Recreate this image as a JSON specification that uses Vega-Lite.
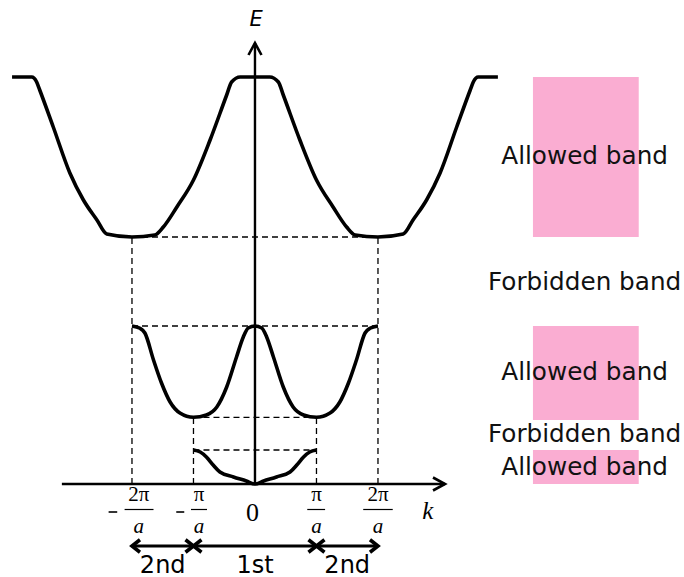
{
  "$schema": "https://vega.github.io/schema/vega-lite/v6.json",
  "width": 684,
  "height": 577,
  "autosize": {"type": "none"},
  "padding": 0,
  "background": "white",
  "config": {"view": {"stroke": null}},
  "layer": [
    {
      "description": "allowed bands as pink blocks",
      "data": {"values": [
        {"k0": 4.52, "k1": 6.24, "e0": 2.47, "e1": 4.07},
        {"k0": 4.52, "k1": 6.24, "e0": 0.64, "e1": 1.58},
        {"k0": 4.52, "k1": 6.24, "e0": 0, "e1": 0.34}
      ]},
      "mark": {"type": "rect", "color": "#FAADD2"},
      "encoding": {
        "x": {"field": "k0", "type": "quantitative", "scale": {"domain": [-4.146, 6.976], "nice": false, "zero": false}, "axis": null},
        "x2": {"field": "k1"},
        "y": {"field": "e0", "type": "quantitative", "scale": {"domain": [-0.93, 4.84], "nice": false, "zero": false}, "axis": null},
        "y2": {"field": "e1"}
      }
    },
    {
      "description": "dashed guide lines at band edges and zone boundaries",
      "data": {"values": [
        {"k0": -2, "k1": 2, "e0": 2.47, "e1": 2.47},
        {"k0": -2, "k1": -2, "e0": 0, "e1": 2.47},
        {"k0": 2, "k1": 2, "e0": 0, "e1": 2.47},
        {"k0": -2, "k1": 2, "e0": 1.58, "e1": 1.58},
        {"k0": -1, "k1": 1, "e0": 0.667, "e1": 0.667},
        {"k0": -1, "k1": -1, "e0": 0, "e1": 0.667},
        {"k0": 1, "k1": 1, "e0": 0, "e1": 0.667},
        {"k0": -1, "k1": 1, "e0": 0.34, "e1": 0.34}
      ]},
      "mark": {"type": "rule", "color": "black", "strokeWidth": 1.3, "strokeDash": [6, 4]},
      "encoding": {
        "x": {"field": "k0", "type": "quantitative", "scale": {"domain": [-4.146, 6.976], "nice": false, "zero": false}, "axis": null},
        "x2": {"field": "k1"},
        "y": {"field": "e0", "type": "quantitative", "scale": {"domain": [-0.93, 4.84], "nice": false, "zero": false}, "axis": null},
        "y2": {"field": "e1"}
      }
    },
    {
      "description": "k and E axes",
      "data": {"values": [
        {"k0": -3.14, "k1": 3.09, "e0": 0, "e1": 0},
        {"k0": 0, "k1": 0, "e0": 0, "e1": 4.41}
      ]},
      "mark": {"type": "rule", "color": "black", "strokeWidth": 2.4},
      "encoding": {
        "x": {"field": "k0", "type": "quantitative", "scale": {"domain": [-4.146, 6.976], "nice": false, "zero": false}, "axis": null},
        "x2": {"field": "k1"},
        "y": {"field": "e0", "type": "quantitative", "scale": {"domain": [-0.93, 4.84], "nice": false, "zero": false}, "axis": null},
        "y2": {"field": "e1"}
      }
    },
    {
      "description": "dispersion curves E(k) of the three bands",
      "data": {"values": [
        {"band": 1, "k": -1.0, "e": 0.34}, {"band": 1, "k": -0.89, "e": 0.32}, {"band": 1, "k": -0.79, "e": 0.27},
        {"band": 1, "k": -0.68, "e": 0.19}, {"band": 1, "k": -0.57, "e": 0.12}, {"band": 1, "k": -0.35, "e": 0.07},
        {"band": 1, "k": -0.14, "e": 0.03}, {"band": 1, "k": 0, "e": 0.0},
        {"band": 1, "k": 0.14, "e": 0.03}, {"band": 1, "k": 0.35, "e": 0.07}, {"band": 1, "k": 0.57, "e": 0.12},
        {"band": 1, "k": 0.68, "e": 0.19}, {"band": 1, "k": 0.79, "e": 0.27}, {"band": 1, "k": 0.89, "e": 0.32},
        {"band": 1, "k": 1.0, "e": 0.34},

        {"band": 2, "k": -2.0, "e": 1.58}, {"band": 2, "k": -1.87, "e": 1.557}, {"band": 2, "k": -1.79, "e": 1.51},
        {"band": 2, "k": -1.65, "e": 1.24}, {"band": 2, "k": -1.52, "e": 1.01}, {"band": 2, "k": -1.38, "e": 0.82},
        {"band": 2, "k": -1.22, "e": 0.71}, {"band": 2, "k": -1.0, "e": 0.667}, {"band": 2, "k": -0.79, "e": 0.69},
        {"band": 2, "k": -0.62, "e": 0.77}, {"band": 2, "k": -0.46, "e": 0.97}, {"band": 2, "k": -0.30, "e": 1.27},
        {"band": 2, "k": -0.19, "e": 1.47}, {"band": 2, "k": -0.11, "e": 1.56}, {"band": 2, "k": 0, "e": 1.58},
        {"band": 2, "k": 0.11, "e": 1.56}, {"band": 2, "k": 0.19, "e": 1.47}, {"band": 2, "k": 0.30, "e": 1.27},
        {"band": 2, "k": 0.46, "e": 0.97}, {"band": 2, "k": 0.62, "e": 0.77}, {"band": 2, "k": 0.79, "e": 0.69},
        {"band": 2, "k": 1.0, "e": 0.667}, {"band": 2, "k": 1.22, "e": 0.71}, {"band": 2, "k": 1.38, "e": 0.82},
        {"band": 2, "k": 1.52, "e": 1.01}, {"band": 2, "k": 1.65, "e": 1.24}, {"band": 2, "k": 1.79, "e": 1.51},
        {"band": 2, "k": 1.87, "e": 1.557}, {"band": 2, "k": 2.0, "e": 1.58},

        {"band": 3, "k": -3.95, "e": 4.07}, {"band": 3, "k": -3.63, "e": 4.07}, {"band": 3, "k": -3.55, "e": 4.02},
        {"band": 3, "k": -3.50, "e": 3.94}, {"band": 3, "k": -3.28, "e": 3.57}, {"band": 3, "k": -3.01, "e": 3.11},
        {"band": 3, "k": -2.79, "e": 2.84}, {"band": 3, "k": -2.57, "e": 2.64}, {"band": 3, "k": -2.41, "e": 2.50},
        {"band": 3, "k": -2.0, "e": 2.47}, {"band": 3, "k": -1.63, "e": 2.49}, {"band": 3, "k": -1.49, "e": 2.57},
        {"band": 3, "k": -1.27, "e": 2.77}, {"band": 3, "k": -1.0, "e": 3.04}, {"band": 3, "k": -0.73, "e": 3.44},
        {"band": 3, "k": -0.46, "e": 3.89}, {"band": 3, "k": -0.38, "e": 4.02}, {"band": 3, "k": -0.24, "e": 4.07},
        {"band": 3, "k": 0, "e": 4.07},
        {"band": 3, "k": 0.24, "e": 4.07}, {"band": 3, "k": 0.38, "e": 4.02}, {"band": 3, "k": 0.46, "e": 3.89},
        {"band": 3, "k": 0.73, "e": 3.44}, {"band": 3, "k": 1.0, "e": 3.04}, {"band": 3, "k": 1.27, "e": 2.77},
        {"band": 3, "k": 1.49, "e": 2.57}, {"band": 3, "k": 1.63, "e": 2.49}, {"band": 3, "k": 2.0, "e": 2.47},
        {"band": 3, "k": 2.41, "e": 2.50}, {"band": 3, "k": 2.57, "e": 2.64}, {"band": 3, "k": 2.79, "e": 2.84},
        {"band": 3, "k": 3.01, "e": 3.11}, {"band": 3, "k": 3.28, "e": 3.57}, {"band": 3, "k": 3.50, "e": 3.94},
        {"band": 3, "k": 3.55, "e": 4.02}, {"band": 3, "k": 3.63, "e": 4.07}, {"band": 3, "k": 3.95, "e": 4.07}
      ]},
      "mark": {"type": "line", "color": "black", "strokeWidth": 3.6, "interpolate": "monotone", "strokeJoin": "round", "strokeCap": "butt"},
      "encoding": {
        "x": {"field": "k", "type": "quantitative", "scale": {"domain": [-4.146, 6.976], "nice": false, "zero": false}, "axis": null},
        "y": {"field": "e", "type": "quantitative", "scale": {"domain": [-0.93, 4.84], "nice": false, "zero": false}, "axis": null},
        "detail": {"field": "band", "type": "nominal"}
      }
    },
    {
      "description": "Brillouin zone arrow shafts",
      "data": {"values": [
        {"k0": -2, "k1": -1, "e": -0.62},
        {"k0": -1, "k1": 1, "e": -0.62},
        {"k0": 1, "k1": 2, "e": -0.62}
      ]},
      "mark": {"type": "rule", "color": "black", "strokeWidth": 3.2},
      "encoding": {
        "x": {"field": "k0", "type": "quantitative", "scale": {"domain": [-4.146, 6.976], "nice": false, "zero": false}, "axis": null},
        "x2": {"field": "k1"},
        "y": {"field": "e", "type": "quantitative", "scale": {"domain": [-0.93, 4.84], "nice": false, "zero": false}, "axis": null}
      }
    },
    {
      "description": "arrowheads on the axes",
      "data": {"values": [
        {"k": 0, "e": 4.41, "dir": "up"},
        {"k": 3.09, "e": 0, "dir": "right"}
      ]},
      "mark": {"type": "point", "filled": false, "color": "black", "strokeWidth": 2.6, "size": 100, "opacity": 1},
      "encoding": {
        "x": {"field": "k", "type": "quantitative", "scale": {"domain": [-4.146, 6.976], "nice": false, "zero": false}, "axis": null},
        "y": {"field": "e", "type": "quantitative", "scale": {"domain": [-0.93, 4.84], "nice": false, "zero": false}, "axis": null},
        "shape": {"field": "dir", "type": "nominal", "legend": null,
          "scale": {"domain": ["up", "right", "zleft", "zright"],
                    "range": ["M-1.3,2.4L0,0L1.3,2.4", "M-2.4,-1.3L0,0L-2.4,1.3", "M1.6,-1.25L0,0L1.6,1.25", "M-1.6,-1.25L0,0L-1.6,1.25"]}}
      }
    },
    {
      "description": "arrowheads on the zone arrows",
      "data": {"values": [
        {"k": -2, "e": -0.62, "dir": "zleft"},
        {"k": -1, "e": -0.62, "dir": "zright"},
        {"k": -1, "e": -0.62, "dir": "zleft"},
        {"k": 1, "e": -0.62, "dir": "zright"},
        {"k": 1, "e": -0.62, "dir": "zleft"},
        {"k": 2, "e": -0.62, "dir": "zright"}
      ]},
      "mark": {"type": "point", "filled": false, "color": "black", "strokeWidth": 3.6, "size": 100, "opacity": 1},
      "encoding": {
        "x": {"field": "k", "type": "quantitative", "scale": {"domain": [-4.146, 6.976], "nice": false, "zero": false}, "axis": null},
        "y": {"field": "e", "type": "quantitative", "scale": {"domain": [-0.93, 4.84], "nice": false, "zero": false}, "axis": null},
        "shape": {"field": "dir", "type": "nominal", "legend": null,
          "scale": {"domain": ["up", "right", "zleft", "zright"],
                    "range": ["M-1.3,2.4L0,0L1.3,2.4", "M-2.4,-1.3L0,0L-2.4,1.3", "M1.6,-1.25L0,0L1.6,1.25", "M-1.6,-1.25L0,0L-1.6,1.25"]}}
      }
    },
    {
      "description": "band names",
      "data": {"values": [
        {"k": 5.36, "e": 3.27, "label": "Allowed band"},
        {"k": 5.36, "e": 2.01, "label": "Forbidden band"},
        {"k": 5.36, "e": 1.11, "label": "Allowed band"},
        {"k": 5.36, "e": 0.49, "label": "Forbidden band"},
        {"k": 5.36, "e": 0.16, "label": "Allowed band"}
      ]},
      "mark": {"type": "text", "font": "DejaVu Sans", "fontSize": 24.7, "color": "#111111", "align": "center", "baseline": "middle"},
      "encoding": {
        "x": {"field": "k", "type": "quantitative", "scale": {"domain": [-4.146, 6.976], "nice": false, "zero": false}, "axis": null},
        "y": {"field": "e", "type": "quantitative", "scale": {"domain": [-0.93, 4.84], "nice": false, "zero": false}, "axis": null},
        "text": {"field": "label"}
      }
    },
    {
      "description": "tick label numerators",
      "data": {"values": [
        {"k": -1.89, "e": -0.11, "t": "2π"},
        {"k": -0.91, "e": -0.11, "t": "π"},
        {"k": 1.0, "e": -0.11, "t": "π"},
        {"k": 2.0, "e": -0.11, "t": "2π"}
      ]},
      "mark": {"type": "text", "font": "Liberation Serif", "fontSize": 21, "color": "black", "align": "center", "baseline": "middle"},
      "encoding": {
        "x": {"field": "k", "type": "quantitative", "scale": {"domain": [-4.146, 6.976], "nice": false, "zero": false}, "axis": null},
        "y": {"field": "e", "type": "quantitative", "scale": {"domain": [-0.93, 4.84], "nice": false, "zero": false}, "axis": null},
        "text": {"field": "t"}
      }
    },
    {
      "description": "tick label denominators",
      "data": {"values": [
        {"k": -1.89, "e": -0.43, "t": "a"},
        {"k": -0.91, "e": -0.43, "t": "a"},
        {"k": 1.0, "e": -0.43, "t": "a"},
        {"k": 2.0, "e": -0.43, "t": "a"}
      ]},
      "mark": {"type": "text", "font": "Liberation Serif", "fontStyle": "italic", "fontSize": 21, "color": "black", "align": "center", "baseline": "middle"},
      "encoding": {
        "x": {"field": "k", "type": "quantitative", "scale": {"domain": [-4.146, 6.976], "nice": false, "zero": false}, "axis": null},
        "y": {"field": "e", "type": "quantitative", "scale": {"domain": [-0.93, 4.84], "nice": false, "zero": false}, "axis": null},
        "text": {"field": "t"}
      }
    },
    {
      "description": "fraction bars",
      "data": {"values": [
        {"k0": -2.12, "k1": -1.65, "e": -0.255},
        {"k0": -1.04, "k1": -0.78, "e": -0.255},
        {"k0": 0.85, "k1": 1.14, "e": -0.255},
        {"k0": 1.76, "k1": 2.24, "e": -0.255}
      ]},
      "mark": {"type": "rule", "color": "black", "strokeWidth": 1.2},
      "encoding": {
        "x": {"field": "k0", "type": "quantitative", "scale": {"domain": [-4.146, 6.976], "nice": false, "zero": false}, "axis": null},
        "x2": {"field": "k1"},
        "y": {"field": "e", "type": "quantitative", "scale": {"domain": [-0.93, 4.84], "nice": false, "zero": false}, "axis": null}
      }
    },
    {
      "description": "minus signs of the negative tick labels",
      "data": {"values": [
        {"k0": -2.38, "k1": -2.24, "e": -0.28},
        {"k0": -1.28, "k1": -1.15, "e": -0.28}
      ]},
      "mark": {"type": "rule", "color": "black", "strokeWidth": 1.6},
      "encoding": {
        "x": {"field": "k0", "type": "quantitative", "scale": {"domain": [-4.146, 6.976], "nice": false, "zero": false}, "axis": null},
        "x2": {"field": "k1"},
        "y": {"field": "e", "type": "quantitative", "scale": {"domain": [-0.93, 4.84], "nice": false, "zero": false}, "axis": null}
      }
    },
    {
      "description": "origin label",
      "data": {"values": [{"k": -0.04, "e": -0.29, "t": "0"}]},
      "mark": {"type": "text", "font": "Liberation Serif", "fontSize": 26, "color": "black", "align": "center", "baseline": "middle"},
      "encoding": {
        "x": {"field": "k", "type": "quantitative", "scale": {"domain": [-4.146, 6.976], "nice": false, "zero": false}, "axis": null},
        "y": {"field": "e", "type": "quantitative", "scale": {"domain": [-0.93, 4.84], "nice": false, "zero": false}, "axis": null},
        "text": {"field": "t"}
      }
    },
    {
      "description": "k axis title",
      "data": {"values": [{"k": 2.81, "e": -0.27, "t": "k"}]},
      "mark": {"type": "text", "font": "Liberation Serif", "fontStyle": "italic", "fontSize": 25, "color": "black", "align": "center", "baseline": "middle"},
      "encoding": {
        "x": {"field": "k", "type": "quantitative", "scale": {"domain": [-4.146, 6.976], "nice": false, "zero": false}, "axis": null},
        "y": {"field": "e", "type": "quantitative", "scale": {"domain": [-0.93, 4.84], "nice": false, "zero": false}, "axis": null},
        "text": {"field": "t"}
      }
    },
    {
      "description": "E axis title",
      "data": {"values": [{"k": 0.02, "e": 4.64, "t": "E"}]},
      "mark": {"type": "text", "font": "DejaVu Sans", "fontStyle": "italic", "fontSize": 21, "color": "black", "align": "center", "baseline": "middle"},
      "encoding": {
        "x": {"field": "k", "type": "quantitative", "scale": {"domain": [-4.146, 6.976], "nice": false, "zero": false}, "axis": null},
        "y": {"field": "e", "type": "quantitative", "scale": {"domain": [-0.93, 4.84], "nice": false, "zero": false}, "axis": null},
        "text": {"field": "t"}
      }
    },
    {
      "description": "Brillouin zone names",
      "data": {"values": [
        {"k": -1.5, "e": -0.815, "t": "2nd"},
        {"k": 0, "e": -0.815, "t": "1st"},
        {"k": 1.5, "e": -0.815, "t": "2nd"}
      ]},
      "mark": {"type": "text", "font": "DejaVu Sans", "fontSize": 24, "color": "black", "align": "center", "baseline": "middle"},
      "encoding": {
        "x": {"field": "k", "type": "quantitative", "scale": {"domain": [-4.146, 6.976], "nice": false, "zero": false}, "axis": null},
        "y": {"field": "e", "type": "quantitative", "scale": {"domain": [-0.93, 4.84], "nice": false, "zero": false}, "axis": null},
        "text": {"field": "t"}
      }
    }
  ]
}
